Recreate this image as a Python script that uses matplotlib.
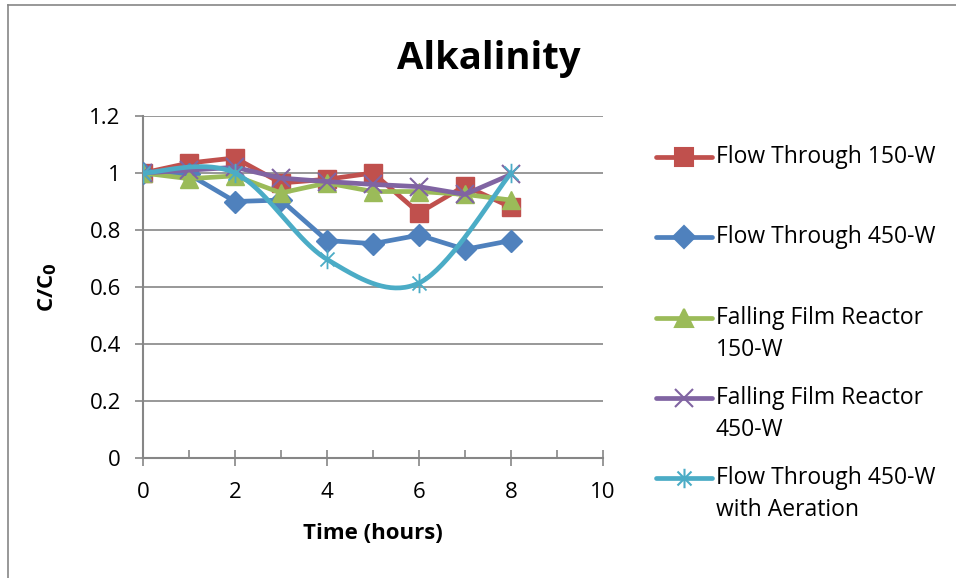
import numpy as np
import matplotlib
matplotlib.use("Agg")
import matplotlib.pyplot as plt
from matplotlib.path import Path
from matplotlib.lines import Line2D

plt.rcParams['font.family'] = ['Open Sans', 'DejaVu Sans']

# ---- data ----
time_ft150 = [0, 1, 2, 3, 4, 5, 6, 7, 8]
ft150 = [1.0, 1.035, 1.053, 0.965, 0.978, 1.0, 0.86, 0.955, 0.88]

time_ft450 = [0, 1, 2, 3, 4, 5, 6, 7, 8]
ft450 = [1.0, 0.995, 0.90, 0.905, 0.763, 0.752, 0.782, 0.732, 0.763]

time_ff150 = [0, 1, 2, 3, 4, 5, 6, 7, 8]
ff150 = [1.0, 0.98, 0.99, 0.93, 0.965, 0.935, 0.935, 0.925, 0.905]

time_ff450 = [0, 1, 2, 3, 4, 5, 6, 7, 8]
ff450 = [1.0, 1.01, 1.02, 0.982, 0.97, 0.96, 0.952, 0.925, 0.995]

time_aer = [0, 2, 4, 6, 8]
aer = [1.0, 1.0, 0.697, 0.614, 1.0]

labels = ["Flow Through 150-W", "Flow Through 450-W",
          "Falling Film Reactor\n150-W", "Falling Film Reactor\n450-W",
          "Flow Through 450-W\nwith Aeration"]
colors = ["#C0504D", "#4F81BD", "#9BBB59", "#8064A2", "#4BACC6"]
xticks = [0, 2, 4, 6, 8, 10]
yticks = [0, 0.2, 0.4, 0.6, 0.8, 1.0, 1.2]
yticklabels = ["0", "0.2", "0.4", "0.6", "0.8", "1", "1.2"]

# asterisk marker (vertical line + X)
star = Path([(0, -1), (0, 1), (-0.72, -0.72), (0.72, 0.72), (-0.72, 0.72), (0.72, -0.72)],
            [Path.MOVETO, Path.LINETO, Path.MOVETO, Path.LINETO, Path.MOVETO, Path.LINETO])


def excel_smooth(x, y, n=40):
    x = np.asarray(x, float)
    y = np.asarray(y, float)
    P = np.column_stack([x, y])
    Pext = np.vstack([P[0], P, P[-1]])
    out = []
    for i in range(len(P) - 1):
        p0, p1, p2, p3 = Pext[i], Pext[i + 1], Pext[i + 2], Pext[i + 3]
        c1 = p1 + (p2 - p0) / 6.0
        c2 = p2 - (p3 - p1) / 6.0
        t = np.linspace(0, 1, n)[:, None]
        seg = (1 - t) ** 3 * p1 + 3 * (1 - t) ** 2 * t * c1 + 3 * (1 - t) * t ** 2 * c2 + t ** 3 * p2
        out.append(seg if i == 0 else seg[1:])
    s = np.vstack(out)
    return s[:, 0], s[:, 1]


W, H = 956, 578
fig = plt.figure(figsize=(W / 100, H / 100), dpi=100)
ax = fig.add_axes([143 / W, (H - 458) / H, 460 / W, 342 / H])

FS = 16
LFS = 16.5
lw = 3.4
ax.plot(time_ft150, ft150, color=colors[0], lw=lw, marker='s', ms=13,
        markeredgecolor=colors[0], zorder=3)
ax.plot(time_ft450, ft450, color=colors[1], lw=lw, marker='D', ms=11,
        markeredgecolor=colors[1], zorder=4)
ax.plot(time_ff150, ff150, color=colors[2], lw=lw, marker='^', ms=13,
        markeredgecolor=colors[2], zorder=5)
ax.plot(time_ff450, ff450, color=colors[3], lw=lw, marker='x', ms=13,
        markeredgewidth=1.5, zorder=6)
sx, sy = excel_smooth(time_aer, aer)
ax.plot(sx, sy, color=colors[4], lw=lw, zorder=7)
ax.plot(time_aer, aer, ls='none', marker=star, ms=14, markeredgewidth=1.3,
        markeredgecolor=colors[4], zorder=8)

ax.set_xlim(0, 10)
ax.set_ylim(0, 1.2)
ax.set_xticks(xticks)
ax.set_xticks(range(0, 11), minor=True)
ax.set_yticks(yticks)
ax.set_yticklabels(yticklabels)
ax.tick_params(axis='x', which='major', direction='inout', length=12, width=1.2,
               color='#868686', labelsize=FS, pad=11)
ax.tick_params(axis='x', which='minor', direction='in', length=6, width=1.2, color='#868686')
ax.tick_params(axis='y', direction='out', length=6, width=1.2, color='#868686',
               labelsize=FS, pad=10)
for s in ['top', 'right']:
    ax.spines[s].set_visible(False)
for s in ['left', 'bottom']:
    ax.spines[s].set_color('#868686')
    ax.spines[s].set_linewidth(1.5)
ax.grid(axis='y', color='#868686', lw=1.2)
ax.set_axisbelow(True)

ax.set_xlabel("Time (hours)", fontsize=FS, fontweight='bold', labelpad=15)
ax.set_ylabel("C/C$_\\mathbf{0}$", fontsize=FS, fontweight='bold', labelpad=22)

fig.text(489 / W, 1 - 59 / H, "Alkalinity", fontsize=27.5, fontweight='bold',
         ha='center', va='center')

# legend drawn by hand
markers = ['s', 'D', '^', 'x', star]
msizes = [13, 11, 13, 13, 14]
first_y = [157, 237, 318, 398, 478]
line_gap = 32
for i in range(5):
    yf = 1 - first_y[i] / H
    ln = Line2D([656 / W, 712 / W], [yf, yf], transform=fig.transFigure,
                color=colors[i], lw=lw, solid_capstyle='round')
    fig.add_artist(ln)
    mk = Line2D([684 / W], [yf], transform=fig.transFigure, ls='none',
                marker=markers[i], ms=msizes[i], color=colors[i],
                markeredgecolor=colors[i], markeredgewidth=1.5)
    fig.add_artist(mk)
    for j, txt in enumerate(labels[i].split("\n")):
        fig.text(716 / W, 1 - (first_y[i] + j * line_gap) / H, txt, fontsize=LFS,
                 ha='left', va='center')

# outer chart border
fig.add_artist(Line2D([8 / W, 8 / W], [0, 1 - 5 / H], transform=fig.transFigure,
                      color='#868686', lw=1.2))
fig.add_artist(Line2D([8 / W, 1], [1 - 5 / H, 1 - 5 / H], transform=fig.transFigure,
                      color='#868686', lw=1.2))

fig.savefig("out.png", dpi=100)
